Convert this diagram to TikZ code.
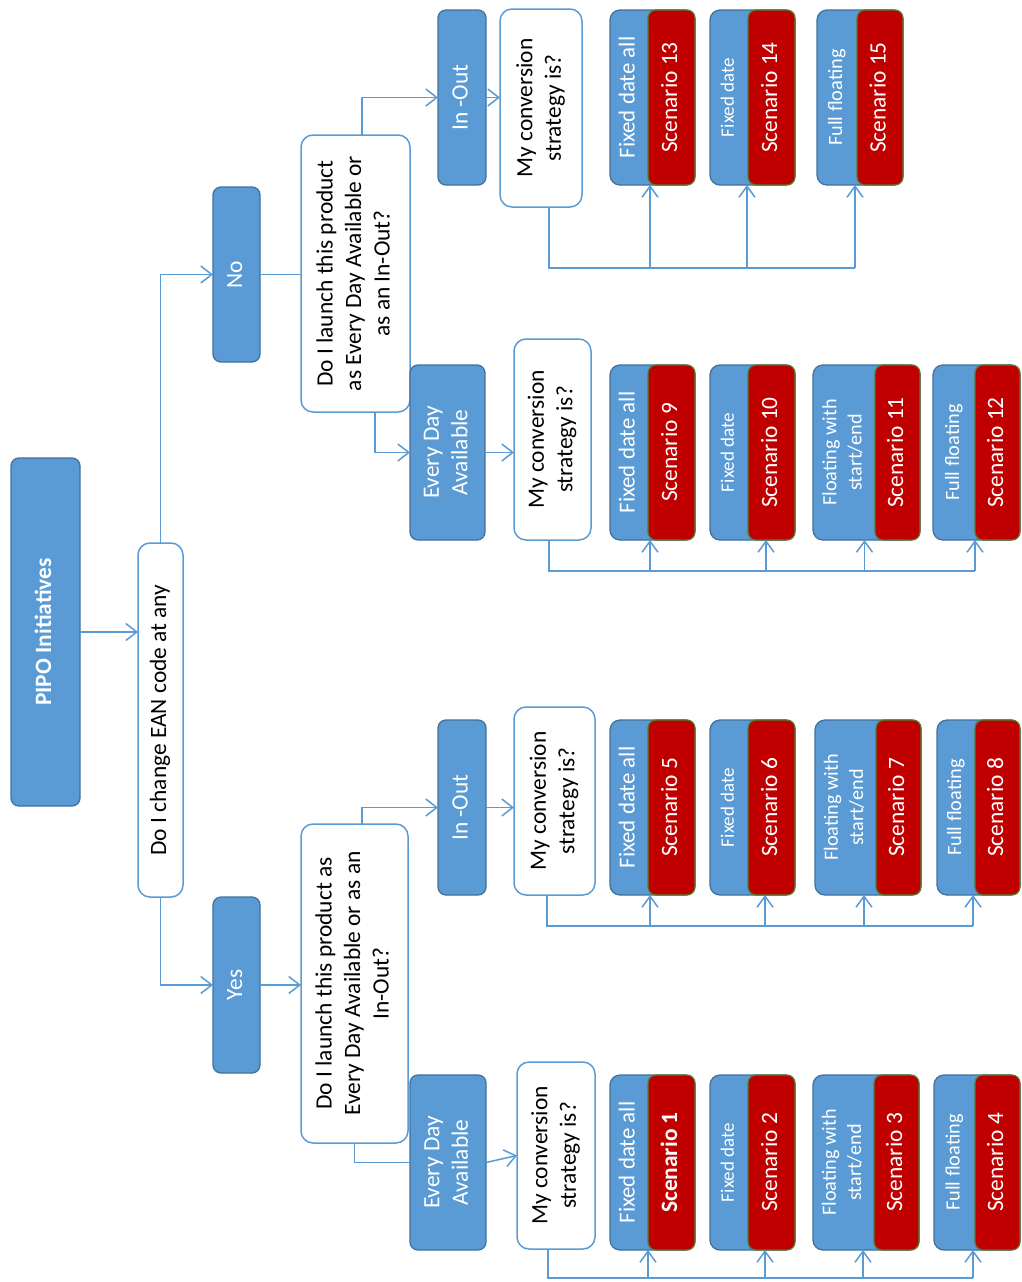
\documentclass[tikz,border=0pt]{standalone}
\usepackage{fontspec}
\setmainfont{Carlito}
\usepackage{graphicx}
\usetikzlibrary{arrows.meta}

\definecolor{accent}{HTML}{5B9BD5}
\definecolor{accentdk}{HTML}{41719C}
\definecolor{scred}{HTML}{C00000}
\definecolor{scedge}{HTML}{507E32}

% text set bottom-to-top, lines centred
\newcommand\vtxt[1]{\rotatebox{90}{\begin{tabular}{@{}c@{}}#1\end{tabular}}}

% scenario card: #1 name, #2 left, #3 split, #4 right, #5 top, #6 bottom,
% #7 label size, #8 label, #9 scenario text
\newcommand\scen[9]{%
  \pgfmathsetmacro\scxc{(#2+#4)/2}\pgfmathsetmacro\scw{#4-#2}%
  \pgfmathsetmacro\scyc{(#5+#6)/2}\pgfmathsetmacro\sch{#6-#5}%
  \pgfmathsetmacro\scrc{(#3+#4)/2}\pgfmathsetmacro\scrw{#4-#3}%
  \pgfmathsetmacro\sclc{(#2+#3)/2}\pgfmathsetmacro\sclb{1.25*#7}%
  \node[sbox, minimum width=\scw pt, minimum height=\sch pt] (#1b) at (\scxc,\scyc) {};
  \node[rbox, minimum width=\scrw pt, minimum height=\sch pt] (#1r) at (\scrc,\scyc) {\vtxt{#9}};
  \node[stxt, font=\fontsize{#7}{\sclb}\selectfont] (#1t) at (\sclc,\scyc) {\vtxt{#8}};
}

\begin{document}
\begin{tikzpicture}[x=1pt,y=-1pt,
  every node/.style={inner sep=0pt, outer sep=0pt},
  font=\fontsize{23.4}{28.5}\selectfont,
  dbox/.style={draw=accentdk, fill=accent, line width=1.3pt, rounded corners=8pt, text=white},
  wbox/.style={draw=accent, fill=white, line width=1.5pt, rounded corners=12pt, text=black},
  sbox/.style={draw=accentdk, fill=accent, line width=1.3pt, rounded corners=10pt},
  rbox/.style={draw=scedge, fill=scred, line width=1.2pt, rounded corners=8pt, text=white},
  stxt/.style={text=white},
  conn/.style={draw=accent, line width=1.5pt},
  arr/.style={conn, -{Straight Barb[length=11pt,width=17pt,line width=1.5pt]}},
  fan/.style={draw=accent, line width=2pt},
  fanarr/.style={draw=accent, line width=1.6pt, -{Straight Barb[length=11pt,width=16pt,line width=1.5pt]}}
]
\fill[white] (0,0) rectangle (1021,1282);
\useasboundingbox (0,0) rectangle (1021,1282);

% root and first question
\node[dbox, minimum width=69pt, minimum height=348pt] (pipo) at (45.5,632) {\vtxt{\textbf{PIPO Initiatives}}};
\node[wbox, minimum width=45pt, minimum height=354pt] (q1) at (160.5,720) {\vtxt{Do I change EAN code at any}};

% answers
\node[dbox, minimum width=47pt, minimum height=175pt] (no) at (236.5,274.5) {\vtxt{No}};
\node[dbox, minimum width=47pt, minimum height=176pt] (yes) at (236.5,985) {\vtxt{Yes}};

% launch questions
\node[wbox, minimum width=109pt, minimum height=277pt] (q2n) at (355.5,273.5)
  {\vtxt{Do I launch this product\\as Every Day Available or\\as an In-Out?}};
\node[wbox, minimum width=107pt, minimum height=319pt] (q2y) at (354.5,983.5)
  {\vtxt{Do I launch this product as\\Every Day Available or as an\\In-Out?}};

% launch types
\node[dbox, minimum width=48pt, minimum height=175pt] (ion) at (462,97.5) {\vtxt{In -Out}};
\node[dbox, minimum width=75pt, minimum height=175pt] (edan) at (447.5,452.5) {\vtxt{Every Day\\Available}};
\node[dbox, minimum width=48pt, minimum height=175pt] (ioy) at (462,807.5) {\vtxt{In -Out}};
\node[dbox, minimum width=76pt, minimum height=175pt] (eday) at (448,1162.5) {\vtxt{Every Day\\Available}};

% conversion questions
\node[wbox, minimum width=82pt, minimum height=198pt] (cn13) at (541,108) {\vtxt{My conversion\\strategy is?}};
\node[wbox, minimum width=77pt, minimum height=201pt] (cn9) at (552.5,439.5) {\vtxt{My conversion\\strategy is?}};
\node[wbox, minimum width=81pt, minimum height=188pt] (cn5) at (554.5,801) {\vtxt{My conversion\\strategy is?}};
\node[wbox, minimum width=78pt, minimum height=187pt] (cn1) at (556,1155.5) {\vtxt{My conversion\\strategy is?}};

% scenarios
\scen{s13}{610}{648}{695}{10}{185}{22.9}{Fixed date all}{Scenario 13}
\scen{s14}{710}{748}{795}{10}{185}{19}{Fixed date}{Scenario 14}
\scen{s15}{817}{857}{903}{10}{185}{20.3}{Full floating}{Scenario 15}

\scen{s9}{610}{648}{695}{365}{540}{22.9}{Fixed date all}{Scenario 9}
\scen{s10}{710}{748}{795}{365}{540}{19}{Fixed date}{Scenario 10}
\scen{s11}{813}{875}{920}{365}{540}{20.2}{Floating with\\start/end}{Scenario 11}
\scen{s12}{933}{975}{1020}{365}{540}{20.3}{Full floating}{Scenario 12}

\scen{s5}{610}{648}{695}{720}{895}{22.9}{Fixed date all}{Scenario 5}
\scen{s6}{710}{748}{795}{720}{895}{19}{Fixed date}{Scenario 6}
\scen{s7}{815}{876}{921}{720}{895}{20.2}{Floating with\\start/end}{Scenario 7}
\scen{s8}{937}{975}{1020}{720}{895}{20.3}{Full floating}{Scenario 8}

\scen{s1}{610}{648}{695}{1075}{1250}{22.9}{Fixed date all}{\textbf{Scenario 1}}
\scen{s2}{710}{748}{795}{1075}{1250}{19}{Fixed date}{Scenario 2}
\scen{s3}{813}{874}{919}{1075}{1250}{20.2}{Floating with\\start/end}{Scenario 3}
\scen{s4}{934}{975}{1020}{1075}{1250}{20.3}{Full floating}{Scenario 4}

% decision tree connectors
\draw[arr] (pipo.east) -- (pipo.east -| q1.west);
\draw[arr] (q1.north) |- (no.west);
\draw[arr] (q1.south) |- (yes.west);
\draw[conn] (no.east) -- (no.east -| q2n.west);
\draw[arr] (yes.east) -- (yes.east -| q2y.west);
\draw[arr] ([xshift=6.5pt]q2n.north) |- (ion.west);
\draw[arr] ([xshift=19.5pt]q2n.south) |- (edan.west);
\draw[arr] ([xshift=7.5pt]q2y.north) |- (ioy.west);
\draw[conn] (q2y.south) |- (eday.west);
\draw[arr] (ion.east) -- (ion.east -| cn13.west);
\draw[arr] (edan.east) -- (edan.east -| cn9.west);
\draw[arr] (ioy.east) -- (ioy.east -| cn5.west);
\draw[arr] (eday.east) -- (cn1.west);

% arrow targets on the scenario cards
\coordinate (a13) at ([xshift=2pt]s13r.south west);
\coordinate (a14) at ([xshift=-1pt]s14r.south west);
\coordinate (a15) at ([xshift=-2pt]s15r.south west);
\coordinate (a9)  at ([xshift=2pt]s9r.south west);
\coordinate (a10) at ([xshift=18pt]s10r.south west);
\coordinate (a11) at ([xshift=-2pt]s11b.south);
\coordinate (a12) at (s12r.south west);
\coordinate (a5)  at ([xshift=2pt]s5r.south west);
\coordinate (a6)  at ([xshift=17pt]s6r.south west);
\coordinate (a7)  at ([xshift=-4pt]s7b.south);
\coordinate (a8)  at ([xshift=-2pt]s8r.south west);
\coordinate (a1)  at (s1r.south west);
\coordinate (a2)  at ([xshift=17pt]s2r.south west);
\coordinate (a3)  at ([xshift=-3pt]s3b.south);
\coordinate (a4)  at ([xshift=-2pt]s4r.south west);

% fan-out from each conversion question
\draw[fan] ([xshift=8pt]cn13.south) -- ++(0,61) coordinate (f13) -- (f13 -| a15);
\foreach \t in {a13,a14,a15} \draw[fanarr] (f13 -| \t) -- (\t);

\draw[fan] ([xshift=-3.5pt]cn9.south) -- ++(0,31) coordinate (f9) -- (f9 -| a12);
\foreach \t in {a9,a10,a11,a12} \draw[fanarr] (f9 -| \t) -- (\t);

\draw[fan] ([xshift=-7.5pt]cn5.south) -- ++(0,31) coordinate (f5) -- (f5 -| a8);
\foreach \t in {a5,a6,a7,a8} \draw[fanarr] (f5 -| \t) -- (\t);

\draw[fan] ([xshift=-8pt]cn1.south) -- ++(0,29) coordinate (f1) -- (f1 -| a4);
\foreach \t in {a1,a2,a3,a4} \draw[fanarr] (f1 -| \t) -- (\t);
\end{tikzpicture}
\end{document}
